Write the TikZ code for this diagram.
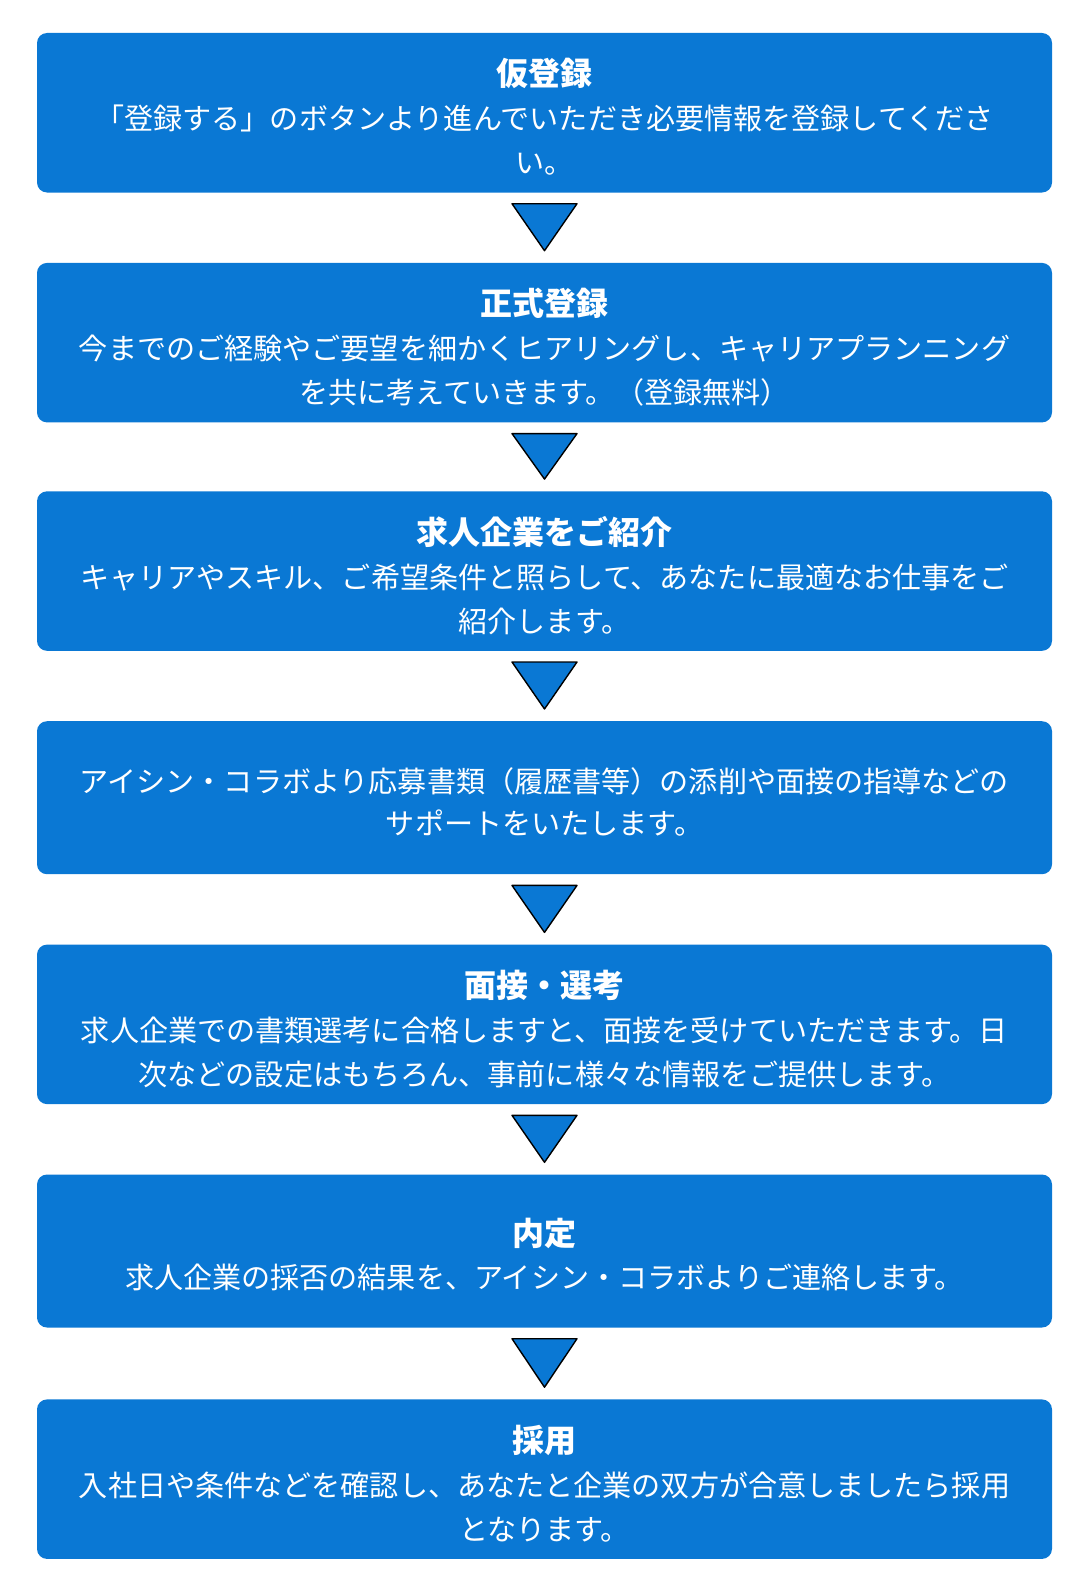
\documentclass[tikz,border=0pt]{standalone}
\usepackage{fontspec}
\newfontfamily\jp{Noto Sans CJK JP}
\usetikzlibrary{positioning}
\definecolor{stepblue}{RGB}{10,120,212}

\begin{document}
\begin{tikzpicture}[x=1pt, y=1pt, node distance=70pt,
  box/.style={rectangle, fill=stepblue, rounded corners=10pt, minimum width=1015pt, minimum height=159.5pt, inner sep=0pt},
  shortbox/.style={box, minimum height=153pt},
  title/.style={anchor=base, text=white, inner sep=0pt, font=\jp\bfseries\fontsize{32}{38}\selectfont},
  body/.style={anchor=base, text=white, inner sep=0pt, font=\jp\fontsize{29.1}{35}\selectfont},
  tri/.style={draw=black, fill=stepblue, line width=1.4pt, line join=round}]
\useasboundingbox (0,0) rectangle (1075,-1592); % page
\node[box] (reg) at (544.5,-112.75) {}; % steps
\node[box, below=of reg] (full) {};
\node[box, below=68.5pt of full] (intro) {};
\node[shortbox, below=of intro] (supp) {};
\node[box, below=of supp] (intv) {};
\node[shortbox, below=of intv] (offer) {};
\node[box, below=71.5pt of offer] (hire) {};
\foreach \a/\b in {reg/full, full/intro, intro/supp, supp/intv, intv/offer, offer/hire}
  \draw[tri] ([xshift=-32.5pt, yshift=-11pt]\a.south) -- ([xshift=32.5pt, yshift=-11pt]\a.south) -- ([yshift=12pt]\b.north) -- cycle; % arrows
\node[title] (regT) at ([yshift=-53pt]reg.north) {仮登録}; % texts
\node[body] (regA) at ([yshift=-97pt]reg.north) {「登録する」のボタンより進んでいただき必要情報を登録してくださ};
\node[body] (regB) at ([yshift=-141pt]reg.north) {い。};
\node[title] (fullT) at ([yshift=-53pt]full.north) {正式登録};
\node[body] (fullA) at ([yshift=-97pt]full.north) {今までのご経験やご要望を細かくヒアリングし、キャリアプランニング};
\node[body] (fullB) at ([yshift=-141pt]full.north) {を共に考えていきます。（登録無料）};
\node[title] (introT) at ([yshift=-53pt]intro.north) {求人企業をご紹介};
\node[body] (introA) at ([yshift=-97pt]intro.north) {キャリアやスキル、ご希望条件と照らして、あなたに最適なお仕事をご};
\node[body] (introB) at ([yshift=-141pt]intro.north) {紹介します。};
\node[body] (suppA) at ([yshift=-71pt]supp.north) {アイシン・コラボより応募書類（履歴書等）の添削や面接の指導などの};
\node[body] (suppB) at ([yshift=-113.5pt]supp.north) {サポートをいたします。};
\node[title] (intvT) at ([yshift=-53pt]intv.north) {面接・選考};
\node[body] (intvA) at ([yshift=-97pt]intv.north) {求人企業での書類選考に合格しますと、面接を受けていただきます。日};
\node[body] (intvB) at ([yshift=-141pt]intv.north) {次などの設定はもちろん、事前に様々な情報をご提供します。};
\node[title] (offerT) at ([yshift=-71pt]offer.north) {内定};
\node[body] (offerA) at ([yshift=-114.5pt]offer.north) {求人企業の採否の結果を、アイシン・コラボよりご連絡します。};
\node[title] (hireT) at ([yshift=-53pt]hire.north) {採用};
\node[body] (hireA) at ([yshift=-97pt]hire.north) {入社日や条件などを確認し、あなたと企業の双方が合意しましたら採用};
\node[body] (hireB) at ([yshift=-141pt]hire.north) {となります。};
\end{tikzpicture}
\end{document}
